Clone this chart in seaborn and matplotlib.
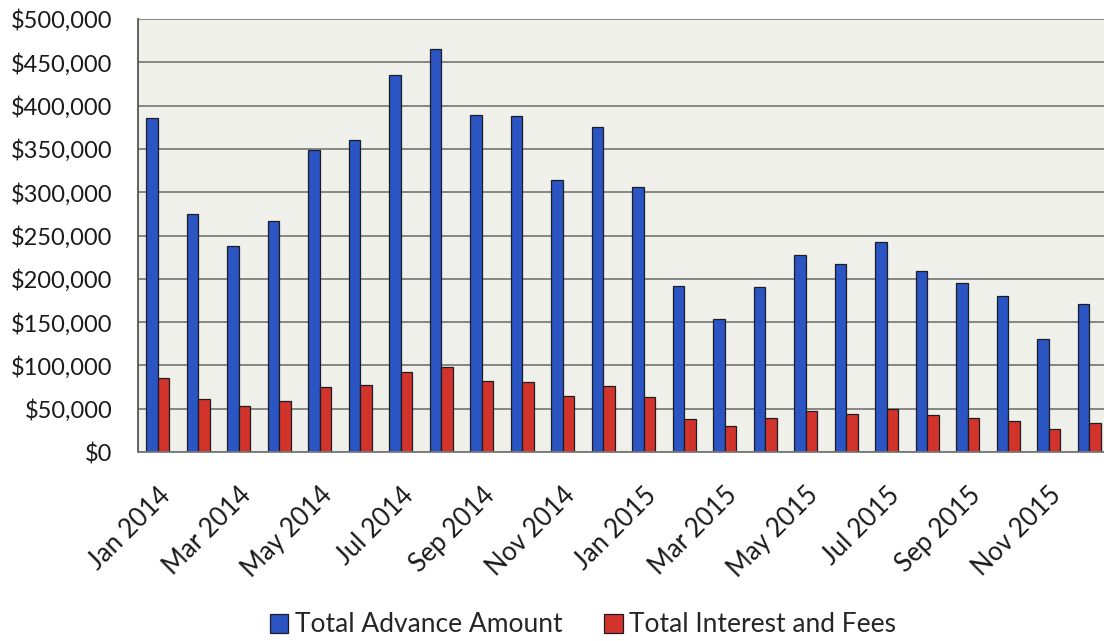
import matplotlib
matplotlib.use("Agg")
import matplotlib.pyplot as plt
import matplotlib.ticker as mticker
import seaborn as sns
import pandas as pd

months = ["Jan 2014", "Feb 2014", "Mar 2014", "Apr 2014", "May 2014", "Jun 2014",
          "Jul 2014", "Aug 2014", "Sep 2014", "Oct 2014", "Nov 2014", "Dec 2014",
          "Jan 2015", "Feb 2015", "Mar 2015", "Apr 2015", "May 2015", "Jun 2015",
          "Jul 2015", "Aug 2015", "Sep 2015", "Oct 2015", "Nov 2015", "Dec 2015"]
advance = [386000, 275000, 238000, 267000, 349000, 360000, 435000, 465000, 389000, 388000,
           314000, 375000, 306000, 192000, 154000, 190000, 228000, 217000, 243000, 209000,
           195000, 180000, 130000, 171000]
interest = [86000, 61000, 53000, 59000, 75000, 77000, 92000, 98000, 82000, 81000,
            65000, 76000, 63000, 38000, 30000, 39000, 47000, 44000, 50000, 43000,
            39000, 36000, 26000, 34000]
series_names = ["Total Advance Amount", "Total Interest and Fees"]
colors = ["#2a55c2", "#d2332b"]

df = pd.DataFrame({
    "month": months * 2,
    "value": advance + interest,
    "series": [series_names[0]] * len(months) + [series_names[1]] * len(months),
})

sns.set_style("white")
plt.rcParams["font.family"] = ["Lato", "DejaVu Sans"]

fig = plt.figure(figsize=(11.04, 6.41), dpi=100)
ax = fig.add_axes([137.5 / 1104, (641 - 452) / 641, 972 / 1104, 433 / 641])
ax.set_facecolor("#f0f0eb")

sns.barplot(data=df, x="month", y="value", hue="series", order=months,
            hue_order=series_names, palette=colors, width=0.57, saturation=1,
            edgecolor="#1c1c24", linewidth=0.9, ax=ax, legend=True)

ax.set_xlim(-0.5, len(months) - 0.5)
ax.set_ylim(0, 500000)
ax.yaxis.set_major_locator(mticker.MultipleLocator(50000))
ax.yaxis.set_major_formatter(mticker.FuncFormatter(lambda v, p: f"${v:,.0f}"))
ax.grid(axis="y", color="#7d7d7d", linewidth=1.3)
ax.set_axisbelow(True)

ax.set_xticks(range(0, len(months), 2))
ax.set_xticklabels(months[::2], rotation=45, ha="right", rotation_mode="anchor")
ax.set_xticks([i - 0.5 for i in range(0, len(months) + 1, 2)], minor=True)
ax.tick_params(axis="x", which="major", length=0, pad=22, labelsize=18.5, colors="#1a1a1a")
ax.tick_params(axis="x", which="minor", length=7, width=1.2, color="#555555", direction="out")
ax.tick_params(axis="y", length=5, width=1.2, color="#555555", direction="out",
               labelsize=17, labelcolor="#1a1a1a", pad=13)

for s in ["top", "right"]:
    ax.spines[s].set_visible(False)
ax.spines["left"].set_color("#555555")
ax.spines["left"].set_linewidth(1.3)
ax.spines["bottom"].set_color("#777777")
ax.spines["bottom"].set_linewidth(1.3)
ax.set_xlabel("")
ax.set_ylabel("")

handles, labels = ax.get_legend_handles_labels()
ax.get_legend().remove()
fig.legend(handles, labels, loc="center", bbox_to_anchor=(583 / 1104, 1 - 625 / 641),
           ncol=2, frameon=False, fontsize=19, handlelength=0.7, handleheight=0.7,
           handletextpad=0.25, columnspacing=1.6)

fig.savefig("out.png", dpi=100, facecolor="white")
